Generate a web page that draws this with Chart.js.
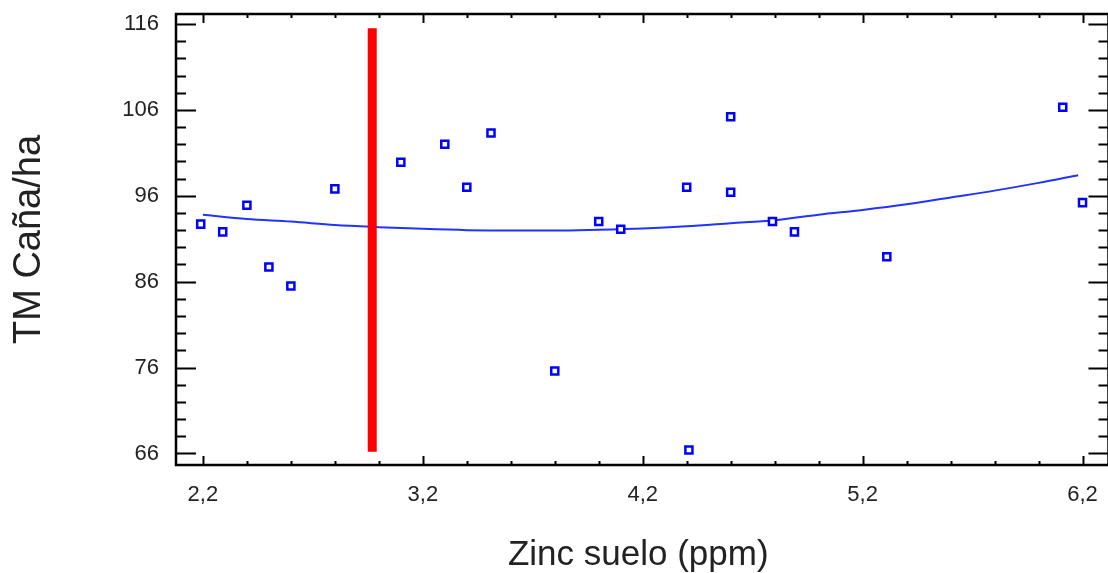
<!DOCTYPE html>
<html>
<head>
<meta charset="utf-8">
<script src="https://cdn.jsdelivr.net/npm/chart.js@4.4.1/dist/chart.umd.min.js"></script>
<style>
    html, body { margin: 0; padding: 0; background: #fff; }
    #wrap { width: 1108px; height: 573px; }
</style>
</head>
<body>
<div id="wrap"><canvas id="chart" width="1108" height="573"></canvas></div>
<script>
// observed points (zinc ppm, TM caña/ha)
const zincX = [2.19, 2.29, 2.40, 2.50, 2.60, 2.80, 3.10, 3.30, 3.40, 3.51, 3.80,
               4.00, 4.10, 4.40, 4.41, 4.60, 4.60, 4.79, 4.89, 5.31, 6.11, 6.20];
const canaY = [92.7, 91.8, 94.9, 87.7, 85.5, 96.8, 99.9, 102.0, 97.0, 103.3, 75.6,
               93.0, 92.1, 97.0, 66.4, 105.2, 96.4, 93.0, 91.8, 88.9, 106.3, 95.2];

// fitted curve
const fitX = [2.2, 2.4, 2.6, 2.8, 3.0, 3.2, 3.4, 3.6, 3.8, 4.0, 4.2,
              4.4, 4.6, 4.8, 5.0, 5.2, 5.4, 5.6, 5.8, 6.0, 6.18];
const fitY = [93.8, 93.3, 93.0, 92.6, 92.35, 92.15, 92.0, 91.95, 91.95, 92.05, 92.2,
              92.45, 92.8, 93.15, 93.8, 94.35, 95.0, 95.8, 96.6, 97.5, 98.4];

// red marker line
const markX = [2.97, 2.97];
const markY = [115.5, 66.2];

const xTicks = [2.2, 3.2, 4.2, 5.2, 6.2];
const yTicks = [66, 76, 86, 96, 106, 116];

// the right edge of the frame sits just past the canvas
const xFrameMax = 6.318;

const FONT = "'Liberation Sans', Arial, sans-serif";

function pairs(xs, ys) {
    return xs.map((x, i) => ({x: x, y: ys[i]}));
}

// no automatic label padding, the plot box is fixed
function fixBox(s, size) {
    if (s.isHorizontal()) s.height = size; else s.width = size;
    s.paddingTop = s.paddingBottom = s.paddingLeft = s.paddingRight = 0;
}

// frame with inward tick marks on all four sides
const frame = {
    id: 'frame',
    afterDraw(chart) {
        const {ctx, chartArea: a, scales} = chart;
        const xs = scales.x, ys = scales.y;
        const right = xs.getPixelForValue(xFrameMax);
        ctx.save();
        ctx.strokeStyle = '#000';
        ctx.lineWidth = 2;
        ctx.beginPath();
        xTicks.forEach(v => {
            for (let k = 0; k < 5; k++) {
                const val = v + k * 0.2;
                if (val > xFrameMax) break;
                const px = Math.round(xs.getPixelForValue(val)) + 0.5;
                const len = k === 0 ? 9 : 4;
                ctx.moveTo(px, a.bottom); ctx.lineTo(px, a.bottom - len);
                ctx.moveTo(px, a.top); ctx.lineTo(px, a.top + len);
            }
        });
        yTicks.forEach(v => {
            for (let k = 0; k < 5; k++) {
                const val = v + k * 2;
                if (val > ys.max) break;
                const py = Math.round(ys.getPixelForValue(val)) + 0.5;
                const len = k === 0 ? 20 : 10;
                ctx.moveTo(a.left, py); ctx.lineTo(a.left + len, py);
                ctx.moveTo(right, py); ctx.lineTo(right - len, py);
            }
        });
        ctx.stroke();
        ctx.lineWidth = 2.5;
        ctx.strokeRect(a.left, a.top, right - a.left, a.bottom - a.top);
        ctx.restore();
    }
};

const ctx = document.getElementById('chart').getContext('2d');
new Chart(ctx, {
    type: 'scatter',
    data: {
        datasets: [{
            type: 'line',
            data: pairs(markX, markY),
            borderColor: '#ff0000',
            borderWidth: 9,
            borderCapStyle: 'butt',
            pointRadius: 0
        }, {
            data: pairs(zincX, canaY),
            pointStyle: 'rect',
            pointRadius: 5,
            pointBorderWidth: 2.5,
            borderColor: '#0000ff',
            backgroundColor: '#ffffff'
        }, {
            type: 'line',
            data: pairs(fitX, fitY),
            borderColor: '#2233ff',
            borderWidth: 2,
            pointRadius: 0,
            cubicInterpolationMode: 'monotone'
        }]
    },
    options: {
        responsive: false,
        animation: false,
        layout: {padding: {left: 0, top: 14, right: 0, bottom: 0}},
        plugins: {legend: {display: false}, tooltip: {enabled: false}},
        scales: {
            x: {
                type: 'linear',
                min: 2.0776,
                max: 6.2817,
                grid: {display: false, drawTicks: false},
                border: {display: false},
                afterBuildTicks: s => { s.ticks = xTicks.map(v => ({value: v})); },
                afterFit: s => fixBox(s, 108),
                ticks: {
                    padding: 17,
                    color: '#222',
                    font: {family: FONT, size: 22},
                    callback: v => v.toFixed(1).replace('.', ',')
                },
                title: {
                    display: true,
                    text: 'Zinc suelo (ppm)',
                    color: '#222',
                    font: {family: FONT, size: 35, lineHeight: 1},
                    padding: 0
                }
            },
            y: {
                min: 64.66,
                max: 117.16,
                grid: {display: false, drawTicks: false},
                border: {display: false},
                afterBuildTicks: s => { s.ticks = yTicks.map(v => ({value: v})); },
                afterFit: s => fixBox(s, 176),
                ticks: {
                    padding: 17,
                    color: '#222',
                    font: {family: FONT, size: 22}
                },
                title: {
                    display: true,
                    text: 'TM Caña/ha',
                    color: '#222',
                    font: {family: FONT, size: 38, lineHeight: 1},
                    padding: {top: 11}
                }
            }
        }
    },
    plugins: [frame]
});
</script>
</body>
</html>
